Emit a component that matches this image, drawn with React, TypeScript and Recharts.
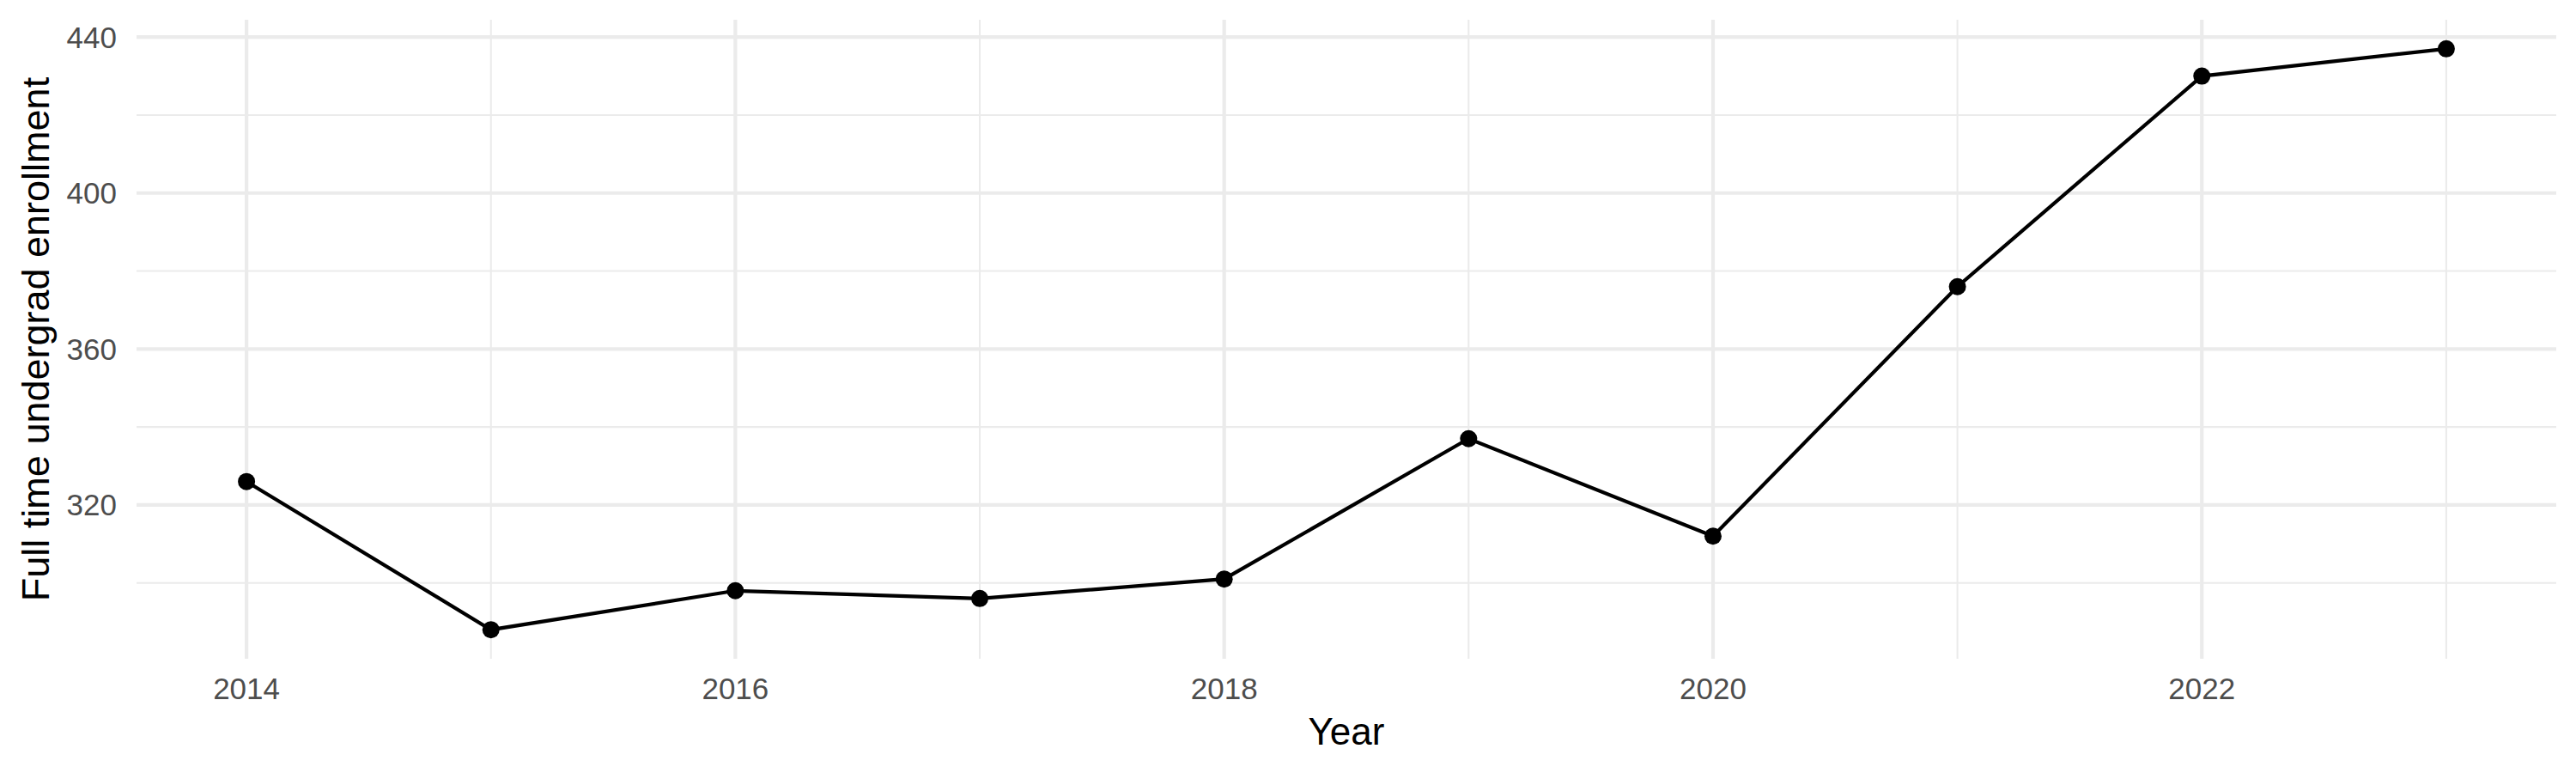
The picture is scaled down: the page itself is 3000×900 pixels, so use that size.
import { LineChart, Line, XAxis, YAxis, CartesianGrid, Label } from "recharts";

// values
const years = [2014, 2015, 2016, 2017, 2018, 2019, 2020, 2021, 2022, 2023];
const enrollment = [326, 288, 298, 296, 301, 337, 312, 376, 430, 437];

const xTicks = [2014, 2016, 2018, 2020, 2022];
const xMinor = [2015, 2017, 2019, 2021, 2023];
const yTicks = [320, 360, 400, 440];
const yMinor = [300, 340, 380, 420];

// ggplot-style 5% expansion of the data range
const expand = (vals: number[]) => {
  const lo = Math.min(...vals);
  const hi = Math.max(...vals);
  const pad = (hi - lo) * 0.05;
  return [lo - pad, hi + pad];
};

const data = years.map((year, i) => ({ year, enrollment: enrollment[i] }));

const FONT = '"Liberation Sans", Arial, Helvetica, sans-serif';
const GRID = "#EBEBEB";

const App = () => {
  return (
    <div style={{ position: "absolute", top: 0, left: 0, background: "#fff", fontFamily: FONT }}>
      <LineChart width={3000} height={900} data={data} margin={{ top: 23, right: 23, bottom: 0, left: 0 }}>
        <CartesianGrid stroke={GRID} strokeWidth={2.1} horizontalValues={yMinor} verticalValues={xMinor} />
        <CartesianGrid stroke={GRID} strokeWidth={4.2} horizontalValues={yTicks} verticalValues={xTicks} />
        <XAxis
          dataKey="year"
          type="number"
          domain={expand(years)}
          allowDataOverflow
          ticks={xTicks}
          axisLine={false}
          tickLine={false}
          tickSize={0}
          tickMargin={22}
          height={133}
          tick={{ fill: "#4D4D4D", fontSize: 35, fontFamily: FONT }}
        >
          <Label value="Year" position="insideBottom" offset={33} fill="#000" fontSize={44} fontFamily={FONT} />
        </XAxis>
        <YAxis
          type="number"
          domain={expand(enrollment)}
          allowDataOverflow
          ticks={yTicks}
          axisLine={false}
          tickLine={false}
          tickSize={0}
          tickMargin={23}
          width={159}
          tick={{ fill: "#4D4D4D", fontSize: 35, fontFamily: FONT }}
        >
          <Label
            value="Full time undergrad enrollment"
            angle={-90}
            position="insideLeft"
            offset={41}
            fill="#000"
            fontSize={45}
            fontFamily={FONT}
            style={{ textAnchor: "middle" }}
          />
        </YAxis>
        <Line
          type="linear"
          dataKey="enrollment"
          stroke="#000"
          strokeWidth={4.2}
          dot={{ r: 10, fill: "#000", stroke: "none" }}
          activeDot={false}
          isAnimationActive={false}
        />
      </LineChart>
    </div>
  );
};

export default App;
